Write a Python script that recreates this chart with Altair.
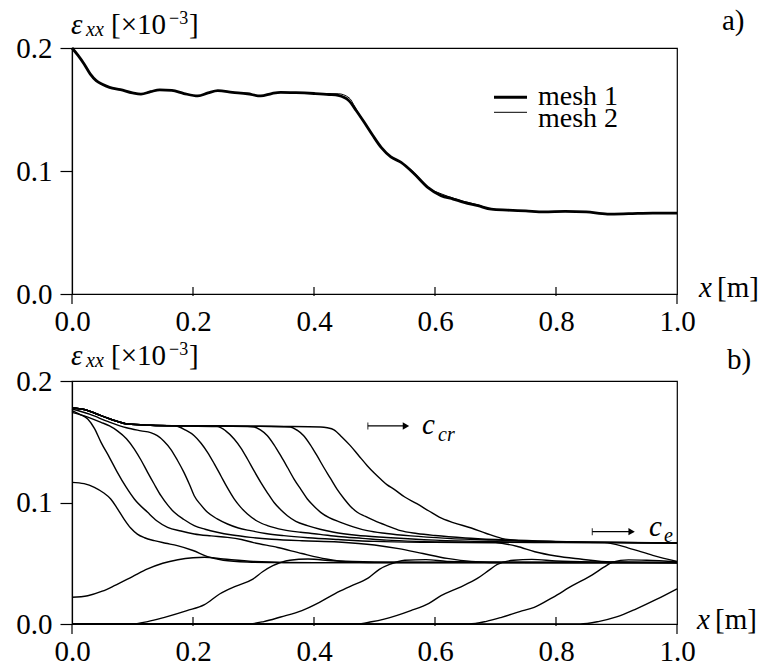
import altair as alt
import pandas as pd

FONT = "'Liberation Serif', 'Times New Roman', Times, 'DejaVu Serif', serif"

# ---------------- panel a): strain profile, two meshes ----------------
mesh_x = [0.0, 0.01, 0.02, 0.03, 0.04, 0.05, 0.062, 0.08, 0.10, 0.114, 0.13, 0.145,
          0.165, 0.185, 0.208, 0.225, 0.241, 0.265, 0.29, 0.312, 0.33, 0.345, 0.37,
          0.40, 0.425, 0.44, 0.458, 0.47, 0.483, 0.497, 0.511, 0.527, 0.544, 0.566,
          0.588, 0.61, 0.63, 0.648, 0.671, 0.693, 0.72, 0.75, 0.78, 0.815, 0.85,
          0.885, 0.92, 0.96, 1.0]
mesh1_strain = [0.200, 0.194, 0.187, 0.179, 0.1735, 0.1705, 0.168, 0.1662, 0.1635,
                0.1625, 0.1645, 0.166, 0.1655, 0.163, 0.161, 0.1635, 0.1653, 0.164,
                0.1628, 0.161, 0.163, 0.164, 0.1637, 0.163, 0.1622, 0.1615, 0.157,
                0.149, 0.1396, 0.129, 0.1192, 0.1115, 0.107, 0.0976, 0.0867, 0.080,
                0.0772, 0.0745, 0.0718, 0.069, 0.0682, 0.0675, 0.0667, 0.0672, 0.0667,
                0.065, 0.0653, 0.0658, 0.0658]
mesh2_strain = [0.200, 0.194, 0.187, 0.179, 0.1735, 0.1705, 0.168, 0.1662, 0.1635,
                0.1625, 0.1648, 0.166, 0.1655, 0.163, 0.161, 0.1635, 0.1653, 0.164,
                0.1628, 0.161, 0.163, 0.164, 0.1637, 0.163, 0.1628, 0.1628, 0.1595,
                0.150, 0.1398, 0.129, 0.1192, 0.1115, 0.107, 0.0985, 0.0867, 0.0815,
                0.0780, 0.0752, 0.0725, 0.069, 0.0682, 0.0675, 0.0664, 0.0672, 0.0667,
                0.065, 0.0653, 0.0658, 0.0658]

# ---------------- panel b): strain snapshots ----------------
# cracking fronts (upper family)
front_0 = [(0.0, 0.1166), (0.02, 0.1155), (0.037, 0.1125), (0.052, 0.108), (0.064, 0.1029),
           (0.075, 0.095), (0.086, 0.0864), (0.097, 0.079), (0.108, 0.074), (0.12, 0.071),
           (0.136, 0.0686), (0.155, 0.0665), (0.174, 0.0645), (0.2, 0.0605), (0.224, 0.0555),
           (0.25, 0.0525), (0.29, 0.051), (0.35, 0.0505), (1.0, 0.0505)]
front_1 = [(0.0, 0.1756), (0.013, 0.1725), (0.026, 0.1687), (0.037, 0.161), (0.048, 0.1495),
           (0.062, 0.137), (0.075, 0.1248), (0.089, 0.113), (0.103, 0.1029), (0.125, 0.0919),
           (0.14, 0.085), (0.158, 0.0796), (0.18, 0.0765), (0.202, 0.0741), (0.23, 0.0725),
           (0.257, 0.0713), (0.28, 0.0695), (0.30, 0.067), (0.34, 0.063), (0.38, 0.058),
           (0.42, 0.0535), (0.46, 0.051), (0.52, 0.0505), (1.0, 0.0505)]
front_2 = [(0.0, 0.1742), (0.025, 0.1705), (0.048, 0.166), (0.062, 0.163), (0.075, 0.159),
           (0.09, 0.1525), (0.103, 0.144), (0.114, 0.135), (0.125, 0.1248), (0.136, 0.115),
           (0.147, 0.1056), (0.158, 0.098), (0.169, 0.0919), (0.185, 0.086), (0.202, 0.081),
           (0.22, 0.078), (0.24, 0.0755), (0.265, 0.0732), (0.295, 0.0713), (0.33, 0.0698),
           (0.38, 0.0685), (0.44, 0.0675), (0.50, 0.065), (0.54, 0.062), (0.58, 0.058),
           (0.62, 0.054), (0.66, 0.0515), (0.72, 0.0505), (1.0, 0.0505)]
front_3 = [(0.0, 0.177), (0.03, 0.1725), (0.06, 0.1665), (0.09, 0.1615), (0.114, 0.159),
           (0.13, 0.1575), (0.141, 0.155), (0.152, 0.1505), (0.163, 0.144), (0.174, 0.135),
           (0.185, 0.1248), (0.194, 0.115), (0.202, 0.1056), (0.213, 0.098), (0.224, 0.0919),
           (0.24, 0.0865), (0.257, 0.0823), (0.275, 0.079), (0.295, 0.0768), (0.32, 0.0745),
           (0.35, 0.0727), (0.39, 0.071), (0.44, 0.0695), (0.5, 0.068), (0.6, 0.0672),
           (0.70, 0.0668), (0.735, 0.064), (0.765, 0.0595), (0.80, 0.056), (0.84, 0.0535),
           (0.89, 0.051), (1.0, 0.0505)]
# common head of the later snapshots: loaded end and the 0.163 plateau
plateau_head = [(0.0, 0.178), (0.02, 0.1765), (0.048, 0.1715), (0.07, 0.1675),
                (0.092, 0.1646), (0.13, 0.1636), (0.17, 0.1632)]
front_4_tail = [(0.188, 0.1595), (0.202, 0.155), (0.213, 0.149), (0.224, 0.1413),
                (0.235, 0.132), (0.246, 0.122), (0.257, 0.112), (0.268, 0.103), (0.279, 0.096),
                (0.29, 0.0905), (0.305, 0.085), (0.323, 0.081), (0.35, 0.0775), (0.378, 0.0755),
                (0.41, 0.0738), (0.44, 0.072), (0.48, 0.0705), (0.52, 0.069), (0.57, 0.068),
                (0.62, 0.0675), (0.7, 0.0672), (0.8, 0.067), (0.88, 0.067), (0.92, 0.0625),
                (0.96, 0.0565), (1.0, 0.0515)]
front_5_tail = [(0.24, 0.1625), (0.254, 0.159), (0.268, 0.1523), (0.279, 0.145), (0.29, 0.1358),
                (0.301, 0.126), (0.312, 0.1166), (0.323, 0.108), (0.334, 0.1), (0.345, 0.094),
                (0.356, 0.0891), (0.37, 0.0845), (0.389, 0.081), (0.41, 0.078), (0.433, 0.0755),
                (0.47, 0.073), (0.52, 0.0712), (0.6, 0.069), (0.7, 0.0677), (0.85, 0.067),
                (1.0, 0.0665)]
front_6_tail = [(0.25, 0.163), (0.301, 0.1622), (0.312, 0.1595), (0.323, 0.155), (0.334, 0.1475),
                (0.345, 0.1385), (0.356, 0.129), (0.367, 0.1193), (0.378, 0.111), (0.389, 0.1029),
                (0.4, 0.097), (0.411, 0.0919), (0.425, 0.0875), (0.444, 0.0837), (0.465, 0.08),
                (0.488, 0.0768), (0.52, 0.0745), (0.56, 0.0725), (0.62, 0.0705), (0.7, 0.069),
                (0.8, 0.0678), (1.0, 0.0667)]
front_7_tail = [(0.25, 0.163), (0.3, 0.1628), (0.361, 0.1622), (0.372, 0.1595), (0.383, 0.155),
                (0.394, 0.1475), (0.405, 0.1385), (0.416, 0.129), (0.427, 0.12), (0.438, 0.111),
                (0.45, 0.1029), (0.46, 0.097), (0.4715, 0.092), (0.485, 0.0885), (0.5, 0.085),
                (0.52, 0.081), (0.543, 0.0768), (0.57, 0.0745), (0.6, 0.0728), (0.65, 0.0708),
                (0.7, 0.0695), (0.8, 0.068), (1.0, 0.0668)]
front_8_tail = [(0.25, 0.163), (0.3, 0.1628), (0.35, 0.1626), (0.411, 0.1622), (0.422, 0.1615),
                (0.433, 0.1598), (0.446, 0.154), (0.46, 0.1468), (0.474, 0.1385), (0.488, 0.1303),
                (0.5, 0.124), (0.51, 0.1193), (0.521, 0.1145), (0.532, 0.111), (0.55, 0.1045),
                (0.57, 0.099), (0.59, 0.093), (0.607, 0.088), (0.63, 0.0835), (0.66, 0.079),
                (0.685, 0.0745), (0.71, 0.0705), (0.74, 0.0685), (0.77, 0.0675), (0.85, 0.0672),
                (1.0, 0.0668)]

# elastic fronts (lower family)
rise_1 = [(0.0, 0.022), (0.026, 0.0233), (0.05, 0.027), (0.07, 0.0315), (0.1, 0.039),
          (0.125, 0.0453), (0.15, 0.05), (0.175, 0.0529), (0.2, 0.0545), (0.219, 0.0549),
          (0.25, 0.0535), (0.3, 0.0515), (0.4, 0.0505), (1.0, 0.0505)]
rise_2 = [(0.0, 0.0), (0.098, 0.0), (0.125, 0.002), (0.153, 0.0055), (0.19, 0.011),
          (0.219, 0.016), (0.244, 0.0247), (0.27, 0.031), (0.299, 0.037), (0.315, 0.043),
          (0.332, 0.048), (0.36, 0.0525), (0.39, 0.0535), (0.43, 0.052), (0.5, 0.051),
          (1.0, 0.0505)]
rise_3 = [(0.0, 0.0), (0.29, 0.0), (0.317, 0.002), (0.345, 0.0058), (0.38, 0.011),
          (0.409, 0.0178), (0.435, 0.025), (0.46, 0.031), (0.49, 0.038), (0.508, 0.045),
          (0.525, 0.049), (0.55, 0.0525), (0.585, 0.053), (0.62, 0.0515), (0.7, 0.0508),
          (1.0, 0.0505)]
rise_4 = [(0.0, 0.0), (0.47, 0.0), (0.495, 0.0018), (0.516, 0.004), (0.56, 0.011),
          (0.59, 0.017), (0.61, 0.0233), (0.64, 0.03), (0.67, 0.0375), (0.69, 0.0445),
          (0.703, 0.049), (0.73, 0.0525), (0.76, 0.0532), (0.8, 0.0518), (0.86, 0.051),
          (1.0, 0.0505)]
rise_5 = [(0.0, 0.0), (0.656, 0.0), (0.685, 0.0022), (0.71, 0.0055), (0.74, 0.0102),
          (0.764, 0.0137), (0.795, 0.022), (0.827, 0.0315), (0.86, 0.0405), (0.88, 0.047),
          (0.893, 0.0508), (0.92, 0.0528), (0.95, 0.0525), (1.0, 0.0512)]
rise_6 = [(0.0, 0.0), (0.84, 0.0), (0.87, 0.002), (0.9, 0.0058), (0.932, 0.0123),
          (0.965, 0.02), (1.0, 0.029)]

snapshots = {
    "front 0": front_0,
    "front 1": front_1,
    "front 2": front_2,
    "front 3": front_3,
    "front 4": plateau_head + front_4_tail,
    "front 5": plateau_head + front_5_tail,
    "front 6": plateau_head + front_6_tail,
    "front 7": plateau_head + front_7_tail,
    "front 8": plateau_head + front_8_tail,
    "rise 1": rise_1,
    "rise 2": rise_2,
    "rise 3": rise_3,
    "rise 4": rise_4,
    "rise 5": rise_5,
    "rise 6": rise_6,
}

x_ticks = [0.0, 0.2, 0.4, 0.6, 0.8, 1.0]
y_ticks = [0.0, 0.1, 0.2]

# ---------------- layout constants (pixels) ----------------
W = 605
H_A = 246
H_B = 243

xs = alt.Scale(domain=[0, 1], nice=False, zero=False)
ys = alt.Scale(domain=[0, 0.2], nice=False)

x_axis = alt.Axis(values=x_ticks, format=".1f", ticks=False, tickSize=0, grid=False,
                  labelFont=FONT, labelFontSize=29, labelColor="black", labelPadding=13,
                  labelFlush=False, domainColor="black", domainWidth=1.2, title=None)
y_axis = alt.Axis(values=y_ticks, format=".1f", tickSize=12, tickColor="black", tickWidth=1.2,
                  grid=False, labelFont=FONT, labelFontSize=29, labelColor="black",
                  labelPadding=8, domainColor="black", domainWidth=1.2, title=None)


def X(field):
    return alt.X(field, type="quantitative", scale=xs, axis=x_axis)


def Y(field):
    return alt.Y(field, type="quantitative", scale=ys, axis=y_axis)


def frame_ticks(h):
    """Inward x ticks and the short outward extensions at both ends."""
    inner = alt.Chart(pd.DataFrame({"t": x_ticks[1:-1]})).mark_rule(
        color="black", strokeWidth=1.2
    ).encode(x=X("t"), y=alt.value(h - 7), y2=alt.value(h + 2))
    ends = alt.Chart(pd.DataFrame({"t": [x_ticks[0], x_ticks[-1]]})).mark_rule(
        color="black", strokeWidth=1.2
    ).encode(x=X("t"), y=alt.value(h), y2=alt.value(h + 10))
    return [inner, ends]


def texts(rows, italic=False):
    df = pd.DataFrame(rows, columns=["label", "px", "py", "size"])
    return alt.Chart(df).mark_text(
        font=FONT, fontStyle="italic" if italic else "normal", align="left",
        baseline="alphabetic", color="black"
    ).encode(
        x=alt.X("px:Q", scale=None, axis=None),
        y=alt.Y("py:Q", scale=None, axis=None),
        text="label:N",
        size=alt.Size("size:Q", scale=None, legend=None),
    )


def strain_title(dy):
    return [
        texts([("ε", -1, dy, 29), ("xx", 14, dy + 2, 20)], italic=True),
        texts([("[×10", 39, dy, 29), ("−3", 97, dy - 10, 18), ("]", 117, dy, 29)]),
    ]


# ---------------- panel a) ----------------
df_a = pd.DataFrame({
    "x": mesh_x * 2,
    "strain": mesh1_strain + mesh2_strain,
    "mesh": ["mesh 1"] * len(mesh_x) + ["mesh 2"] * len(mesh_x),
})

mesh1_line = alt.Chart(df_a).transform_filter(alt.datum.mesh == "mesh 1").mark_line(
    color="black", strokeWidth=2.8, interpolate="monotone"
).encode(x=X("x"), y=Y("strain"))
mesh2_line = alt.Chart(df_a).transform_filter(alt.datum.mesh == "mesh 2").mark_line(
    color="black", strokeWidth=1.0, interpolate="monotone"
).encode(x=X("x"), y=Y("strain"))

legend_lines = alt.Chart(pd.DataFrame({
    "x0": [422, 422], "x1": [455, 455], "py": [49.3, 64.3], "w": [3.0, 1.0]
})).mark_rule(color="black").encode(
    x=alt.X("x0:Q", scale=None, axis=None), x2="x1:Q",
    y=alt.Y("py:Q", scale=None, axis=None),
    strokeWidth=alt.StrokeWidth("w:Q", scale=None, legend=None),
)
legend_text = texts([("mesh 1", 466, 57, 28), ("mesh 2", 466, 79, 28)])

panel_a = alt.layer(
    mesh1_line, mesh2_line, *frame_ticks(H_A), legend_lines, legend_text,
    *strain_title(-14),
    texts([("a)", 650, -18, 29), ("[m]", 645, 249, 29)]),
    texts([("x", 627, 249, 29)], italic=True),
).properties(width=W, height=H_A)

# ---------------- panel b) ----------------
rows = []
for name, pts in snapshots.items():
    for i, (x, v) in enumerate(pts):
        rows.append({"x": x, "strain": v, "curve": name, "i": i})
df_b = pd.DataFrame(rows)

snap_lines = alt.Chart(df_b).mark_line(
    color="black", strokeWidth=1.4, interpolate="monotone"
).encode(x=X("x"), y=Y("strain"), detail="curve:N", order="i:Q")

arrows = pd.DataFrame({
    "x0": [0.489, 0.860], "x1": [0.548, 0.921], "head": [0.552, 0.925], "v": [0.163, 0.076]
})
arrow_shaft = alt.Chart(arrows).mark_rule(color="black", strokeWidth=1.2).encode(
    x=X("x0"), x2="x1:Q", y=Y("v"))
arrow_head = alt.Chart(arrows).mark_point(
    shape="triangle-right", filled=True, color="black", opacity=1, size=55
).encode(x=X("head"), y=Y("v"))
arrow_tail = alt.Chart(arrows).mark_tick(
    orient="vertical", color="black", size=7, thickness=1.2
).encode(x=X("x0"), y=Y("v"))

panel_b = alt.layer(
    snap_lines, *frame_ticks(H_B), arrow_shaft, arrow_head, arrow_tail,
    *strain_title(-16),
    texts([("b)", 655, -12, 29), ("[m]", 643, 248, 29)]),
    texts([("x", 625, 248, 29), ("c", 350, 53, 29), ("cr", 366, 60, 20),
           ("c", 577, 155, 29), ("e", 592, 161, 20)], italic=True),
).properties(width=W, height=H_B)

chart = alt.vconcat(panel_a, panel_b, spacing=87, bounds="flush").configure_view(
    stroke="black", strokeWidth=1.2
).properties(
    padding={"left": 15, "top": 6, "right": 2, "bottom": 0},
    background="white",
)

chart.save("out.html", embed_options={"renderer": "svg", "actions": False})
